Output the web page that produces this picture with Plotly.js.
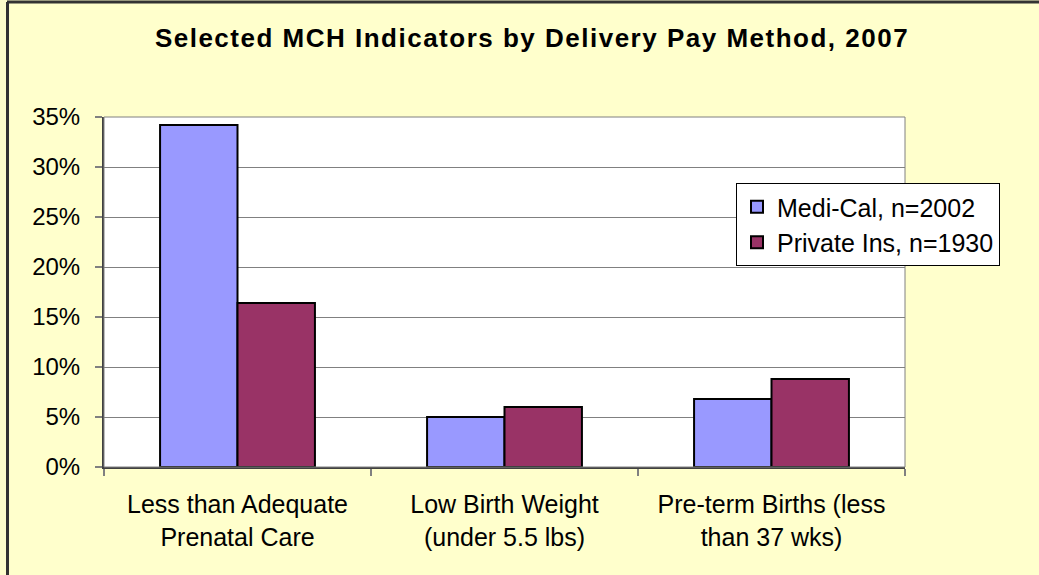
<!DOCTYPE html>
<html>
<head>
<meta charset="utf-8">
<script src="https://cdn.plot.ly/plotly-3.0.1.min.js"></script>
<style>html,body{margin:0;padding:0;background:#FFFFCC;}#chart{width:1039px;height:575px;}
.gtitle{letter-spacing:1.5px;}</style>
</head>
<body>
<div id="chart"></div>
<script>
const categories = ["Less than Adequate<br>Prenatal Care", "Low Birth Weight<br>(under 5.5 lbs)", "Pre-term Births (less<br>than 37 wks)"];
const mediCal = [0.342, 0.050, 0.068];
const privateIns = [0.164, 0.060, 0.088];
const seriesNames = ["Medi-Cal, n=2002", "Private Ins, n=1930"];
const yTicks = [0, 0.05, 0.10, 0.15, 0.20, 0.25, 0.30, 0.35];
const yTickLabels = ["0%", "5%", "10%", "15%", "20%", "25%", "30%", "35%"];

const font = "Liberation Sans, Arial, sans-serif";
const W = 801, H = 350, L = 104, T = 117;
const px = x => (x - L) / W;
const py = y => (T + H - y) / H;
const data = [
  {type: "bar", x: categories, y: mediCal, name: seriesNames[0],
   marker: {color: "#9999FF", line: {color: "#000000", width: 2}}, hoverinfo: "none"},
  {type: "bar", x: categories, y: privateIns, name: seriesNames[1],
   marker: {color: "#993366", line: {color: "#000000", width: 2}}, hoverinfo: "none"}
];
const layout = {
  width: 1039, height: 575,
  paper_bgcolor: "#FFFFCC", plot_bgcolor: "#FFFFFF",
  margin: {l: 104, r: 134, t: 117, b: 108, pad: 0},
  barmode: "group", bargap: 0.42, bargroupgap: 0,
  font: {family: font, size: 24, color: "#000000"},
  title: {text: "<b>Selected MCH Indicators by Delivery Pay Method, 2007</b>",
          font: {family: font, size: 26, color: "#000000"},
          x: 532 / 1039, xanchor: "center", xref: "container", y: 1 - 38 / 575, yanchor: "middle"},
  xaxis: {type: "category", showgrid: false, showline: true, linecolor: "#404040", linewidth: 2,
          ticks: "outside", tickson: "boundaries", ticklen: 7, tickcolor: "#808080", tickwidth: 2,
          tickfont: {family: font, size: 25}, ticklabelstandoff: 14, fixedrange: true},
  yaxis: {range: [0, 0.35], tickvals: yTicks, ticktext: yTickLabels, showgrid: true,
          gridcolor: "#808080", gridwidth: 1, zeroline: false, showline: true, linecolor: "#404040",
          linewidth: 2, ticks: "outside", ticklen: 7, tickcolor: "#808080", tickwidth: 2,
          tickfont: {family: font, size: 24}, ticklabelstandoff: 10, fixedrange: true},
  legend: {x: px(736), y: py(183), xanchor: "left", yanchor: "top", bgcolor: "#FFFFFF",
           bordercolor: "#000000", borderwidth: 1, font: {family: font, size: 25},
           traceorder: "normal", itemwidth: 30, tracegroupgap: 0},
  showlegend: true,
  shapes: [
    {type: "rect", xref: "paper", yref: "paper", x0: 0, x1: 1, y0: 0, y1: 1,
     line: {color: "#808080", width: 1}, fillcolor: "rgba(0,0,0,0)", layer: "above"},
    {type: "line", xref: "paper", yref: "paper", x0: px(7), x1: px(1039), y0: py(2), y1: py(2),
     line: {color: "#333333", width: 3}},
    {type: "line", xref: "paper", yref: "paper", x0: px(7.5), x1: px(7.5), y0: py(2), y1: py(575),
     line: {color: "#333333", width: 3}}
  ]
};
Plotly.newPlot("chart", data, layout, {displayModeBar: false, staticPlot: true});
</script>
</body>
</html>
